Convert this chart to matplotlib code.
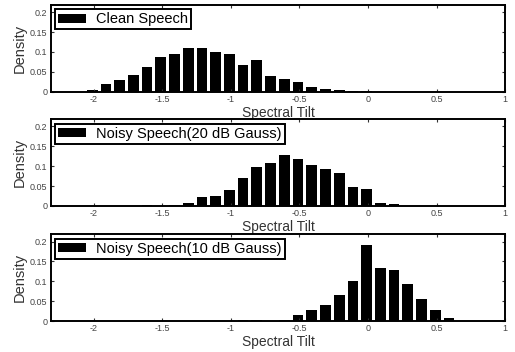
import numpy as np
import matplotlib
matplotlib.use('Agg')
from matplotlib import pyplot as plt

# Histogram bin centres (spectral tilt) and densities for each condition
clean_x = [-2.0, -1.9, -1.8, -1.7, -1.6, -1.5, -1.4, -1.3, -1.2, -1.1, -1.0,
           -0.9, -0.8, -0.7, -0.6, -0.5, -0.4, -0.3, -0.2, -0.1, 0.0]
clean_y = [0.005, 0.020, 0.029, 0.041, 0.061, 0.087, 0.096, 0.111, 0.111, 0.099, 0.096,
           0.066, 0.080, 0.039, 0.031, 0.024, 0.013, 0.008, 0.005, 0.001, 0.002]

noisy20_x = [-1.6, -1.5, -1.4, -1.3, -1.2, -1.1, -1.0, -0.9, -0.8, -0.7, -0.6,
             -0.5, -0.4, -0.3, -0.2, -0.1, 0.0, 0.1, 0.2]
noisy20_y = [0.002, 0.001, 0.002, 0.008, 0.022, 0.025, 0.040, 0.071, 0.097, 0.108, 0.129,
             0.119, 0.103, 0.092, 0.084, 0.047, 0.043, 0.008, 0.004]

noisy10_x = [-1.0, -0.9, -0.8, -0.7, -0.6, -0.5, -0.4, -0.3, -0.2, -0.1, 0.0,
             0.1, 0.2, 0.3, 0.4, 0.5, 0.6, 0.7]
noisy10_y = [0.001, 0.003, 0.003, 0.001, 0.003, 0.015, 0.027, 0.040, 0.066, 0.102, 0.192,
             0.133, 0.129, 0.092, 0.056, 0.028, 0.008, 0.001]

labels = ['Clean Speech', 'Noisy Speech(20 dB Gauss)', 'Noisy Speech(10 dB Gauss)']
xticks = [-2, -1.5, -1, -0.5, 0, 0.5, 1]
xticklabels = ['-2', '-1.5', '-1', '-0.5', '0', '0.5', '1']
yticks = [0, 0.05, 0.1, 0.15, 0.2]
yticklabels = ['0', '0.05', '0.1', '0.15', '0.2']

plt.rcParams['font.family'] = ['Liberation Sans', 'DejaVu Sans']

fig = plt.figure(figsize=(5.15, 3.52), dpi=100)
bottoms = [0.7395, 0.415, 0.088]
data = [(clean_x, clean_y), (noisy20_x, noisy20_y), (noisy10_x, noisy10_y)]

for (xs, ys), label, b in zip(data, labels, bottoms):
    ax = fig.add_axes([0.099, b, 0.882, 0.246])
    ax.bar(np.array(xs) - 0.01, ys, width=0.078, color='black', label=label)
    ax.set_xlim(-2.31, 1)
    ax.set_ylim(0, 0.218)
    ax.set_xticks(xticks)
    ax.set_xticklabels(xticklabels)
    ax.set_yticks(yticks)
    ax.set_yticklabels(yticklabels)
    ax.tick_params(direction='in', top=True, right=True, labelsize=6.5,
                   length=2.5, width=0.8, colors='#333333', labelcolor='#444444',
                   pad=2.5)
    for s in ax.spines.values():
        s.set_linewidth(1.4)
    ax.set_xlabel('Spectral Tilt', fontsize=10, labelpad=1, color='#333333')
    ax.set_ylabel('Density', fontsize=10.5, labelpad=2, color='#333333')
    leg = ax.legend(loc='upper left', fontsize=10.5, fancybox=False, framealpha=1,
                    handlelength=1.9, handleheight=0.6, borderpad=0.2,
                    borderaxespad=0.3, handletextpad=0.7)
    leg.get_frame().set_edgecolor('black')
    leg.get_frame().set_linewidth(1.4)

fig.savefig('out.png', dpi=100)
